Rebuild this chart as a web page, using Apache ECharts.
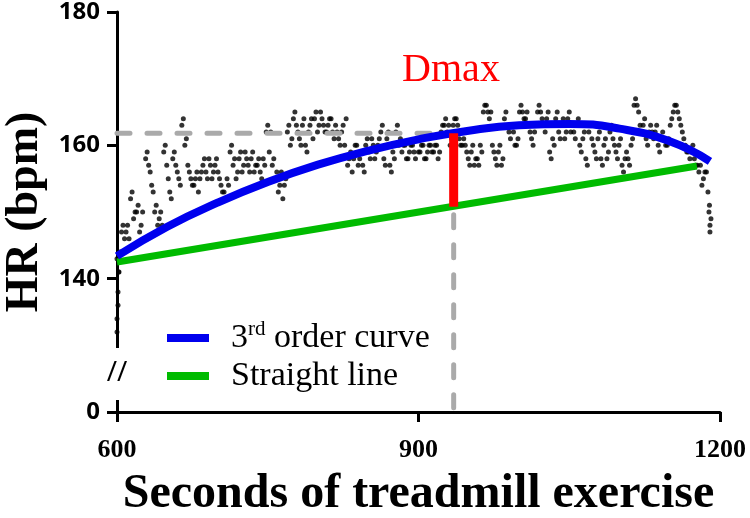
<!DOCTYPE html>
<html>
<head>
<meta charset="utf-8">
<script src="https://cdn.jsdelivr.net/npm/echarts@6/dist/echarts.min.js"></script>
<style>html,body{margin:0;padding:0;background:#fff}#c{width:750px;height:518px}</style>
</head>
<body>
<div id="c"></div>
<script>
// ---- data ----
const xTicks = [600, 900, 1200];
const yTickLabels = {120: '0', 140: '140', 160: '160', 180: '180'};
// heart-rate samples, one every 3 s starting at 600 s
const hrStart = 600;
const hrStep = 3;
const hrValues = [
  143,144,148,147,146,153,150,151,148,146,
  159,156,153,151,149,148,160,155,152,159,
  156,154,164,161,156,154,155,153,156,158,
  155,157,156,158,155,153,152,154,160,158,
  156,159,157,158,156,159,157,158,155,157,
  163,162,158,156,154,152,155,163,161,165,
  162,160,164,159,163,161,165,163,164,162,
  163,164,161,162,160,163,164,158,156,160,
  157,159,156,161,158,160,159,161,163,157,
  162,156,158,163,161,160,158,159,160,158,
  159,160,158,159,160,159,160,159,163,164,
  163,161,164,163,160,161,159,157,160,158,
  157,159,166,165,165,159,157,160,158,165,
  162,163,160,161,166,164,165,162,160,163,
  166,164,162,165,158,160,165,161,164,162,
  165,163,161,164,159,162,157,163,160,158,
  162,157,161,159,163,160,158,161,156,159,
  157,161,167,165,162,164,160,163,161,163,
  159,162,160,161,164,166,165,163,161,159,
  158,160,157,156,154,156,153,149
];
// second interleaved set of samples, one every 3 s starting at 601.5 s
const hrStart2 = 601.5;
const hrValues2 = [
  141,147,146,148,152,149,150,147,150,158,
  157,154,150,148,150,159,157,153,158,157,
  155,163,160,157,155,154,156,155,157,156,
  158,155,157,156,154,153,155,159,157,155,
  158,156,159,157,158,156,157,156,158,162,
  159,157,155,153,156,154,162,160,164,163,
  161,163,160,162,164,164,162,165,163,162,
  164,162,163,161,162,160,157,159,158,160,
  158,157,160,159,161,158,160,162,158,161,
  157,159,162,160,159,160,158,160,159,161,
  159,160,158,160,159,160,158,162,163,162,
  160,163,164,161,160,160,158,159,157,158,
  160,165,166,164,160,158,159,157,164,163,
  161,162,160,165,165,164,163,161,162,165,
  165,163,164,159,161,164,162,163,161,164,
  162,162,163,160,161,158,162,161,159,161,
  158,160,158,162,161,159,160,157,158,158,
  160,166,166,163,163,161,162,162,162,160,
  161,161,160,163,165,166,164,162,160,159,
  159,158,157,157,155,156,151
];
// extra samples (start run and final drop)
const hrExtra = [[600,132],[600,134],[601,136],[601,138],[602,141],[1189,150],[1190,148],[1190,147]];
// 3rd order curve, read along its path
const curveTimes = [600, 650, 700, 750, 800, 850, 900, 950, 1000, 1050, 1100, 1150, 1190];
const curveValues = [143.4, 147.8, 151.4, 154.5, 157.1, 159.2, 160.9, 162.2, 163.0, 163.2, 162.5, 160.6, 157.6];
// straight line between first and last point
const lineTimes = [600, 1177];
const lineValues = [142.5, 156.9];
// Dmax point
const dmaxTime = 935;
const dmaxCurve = 161.8;
const dmaxLine = 150.8;
const yAxisBase = 120;

const scatterData = hrValues.map((v, i) => [hrStart + hrStep * i, v])
  .concat(hrValues2.map((v, i) => [hrStart2 + hrStep * i, v]))
  .concat(hrExtra);
const curveData = curveTimes.map((t, i) => [t, curveValues[i]]);
const lineData = lineTimes.map((t, i) => [t, lineValues[i]]);

const serif = '"Liberation Serif", "Times New Roman", serif';
const sans = '"Open Sans", "Liberation Sans", Arial, sans-serif';

const chart = echarts.init(document.getElementById('c'), null, {renderer: 'canvas'});
chart.setOption({
  animation: false,
  backgroundColor: '#ffffff',
  grid: {left: 117, right: 30, top: 12, bottom: 106, containLabel: false, outerBoundsMode: 'none'},
  xAxis: {
    type: 'value', min: 600, max: 1200, interval: 300,
    name: 'Seconds of treadmill exercise', nameLocation: 'middle', nameGap: 59,
    nameTextStyle: {fontFamily: serif, fontWeight: 'bold', fontSize: 48, color: '#000'},
    axisLine: {show: true, onZero: false, lineStyle: {color: '#000', width: 3}},
    axisTick: {show: true, length: 10, lineStyle: {color: '#000', width: 3}},
    axisLabel: {margin: 25, fontFamily: serif, fontWeight: 'bold', fontSize: 26, color: '#000',
      formatter: v => xTicks.includes(v) ? String(v) : ''},
    splitLine: {show: false}
  },
  yAxis: {
    type: 'value', min: 120, max: 180, interval: 20,
    name: 'HR (bpm)', nameLocation: 'middle', nameGap: 68,
    nameTextStyle: {fontFamily: serif, fontWeight: 'bold', fontSize: 46, color: '#000'},
    axisLine: {show: true, onZero: false, lineStyle: {color: '#000', width: 3}},
    axisTick: {show: true, length: 10, lineStyle: {color: '#000', width: 3}},
    axisLabel: {margin: 17, fontFamily: sans, fontWeight: 'bold', fontSize: 24, color: '#000',
      formatter: v => yTickLabels[v] || ''},
    splitLine: {show: false}
  },
  legend: {
    data: ['3rd order curve', 'Straight line'],
    orient: 'vertical', left: 162, top: 314, itemGap: 0,
    icon: 'rect', itemWidth: 42, itemHeight: 8,
    formatter: name => name === '3rd order curve' ? '3{sup|rd} order curve' : name,
    textStyle: {fontFamily: serif, fontSize: 34, color: '#000', lineHeight: 38, padding: [0, 0, 0, 17],
      rich: {sup: {fontFamily: serif, fontSize: 21, color: '#000', verticalAlign: 'top', lineHeight: 38, padding: [0, 0, 12, 0]}}},
    selectedMode: false
  },
  series: [
    {type: 'scatter', name: 'HR', data: scatterData, symbolSize: 5, itemStyle: {color: '#000'}, z: 2, silent: true},
    {type: 'line', name: 'refH', data: [[600, dmaxCurve], [dmaxTime, dmaxCurve]], showSymbol: false, z: 3,
      lineStyle: {color: '#aaaaaa', width: 5, type: [13, 17], cap: 'round'}},
    {type: 'line', name: 'refV', data: [[dmaxTime, dmaxLine], [dmaxTime, yAxisBase]], showSymbol: false, z: 3,
      lineStyle: {color: '#aaaaaa', width: 5, type: [13, 17], dashOffset: -8, cap: 'round'}},
    {type: 'line', name: 'Straight line', data: lineData, showSymbol: false, z: 4, color: '#00bb00',
      lineStyle: {color: '#00bb00', width: 7}},
    {type: 'line', name: '3rd order curve', data: curveData, smooth: true, showSymbol: false, z: 5, color: '#0000ee',
      lineStyle: {color: '#0000ee', width: 8}},
    {type: 'line', name: 'Dmax', data: [[dmaxTime, dmaxCurve], [dmaxTime, dmaxLine]], showSymbol: false, z: 6,
      lineStyle: {color: '#ff0000', width: 9, cap: 'butt'}}
  ],
  graphic: [
    {type: 'rect', left: 109, top: 348, z: 100, shape: {width: 16, height: 52}, style: {fill: '#fff'}},
    {type: 'text', z: 101, style: {text: '//', x: 117, y: 373, textAlign: 'center', textVerticalAlign: 'middle',
      fontFamily: sans, fontSize: 28, fill: '#000'}},
    {type: 'text', z: 101, style: {text: 'Dmax', x: 451, y: 70, textAlign: 'center', textVerticalAlign: 'middle',
      fontFamily: serif, fontSize: 40, fill: '#ff0000'}}
  ]
});
</script>
</body>
</html>
